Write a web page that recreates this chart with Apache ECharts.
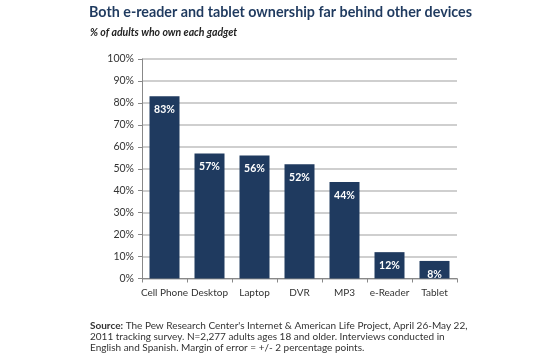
<!DOCTYPE html>
<html><head><meta charset="utf-8">
<script src="https://cdn.jsdelivr.net/npm/echarts@6/dist/echarts.min.js"></script>
<style>html,body{margin:0;padding:0;background:#fff}#c{width:560px;height:360px}</style>
</head><body><div id="c"></div>
<script>
const categories = ['Cell Phone','Desktop','Laptop','DVR','MP3','e-Reader','Tablet'];
const ownership = [83,57,56,52,44,12,8];
const yTicks = [0,10,20,30,40,50,60,70,80,90,100];

const chart = echarts.init(document.getElementById('c'));
chart.setOption({
  animation:false,
  title:[
    {text:'Both e-reader and tablet ownership far behind other devices',left:84,top:0,padding:5,
     textStyle:{fontFamily:'Lato',fontWeight:'bold',fontSize:14.3,color:'#1f3a5f'}},
    {text:'% of adults who own each gadget',left:85,top:22,padding:5,
     textStyle:{fontFamily:'Lato',fontStyle:'italic',fontWeight:'bold',fontSize:10.5,color:'#222'}},
    {text:'{b|Source:} The Pew Research Center\'s Internet & American Life Project, April 26-May 22,\n2011 tracking survey. N=2,277 adults ages 18 and older. Interviews conducted in\nEnglish and Spanish. Margin of error = +/- 2 percentage points.',
     left:85,top:315,padding:5,
     textStyle:{fontFamily:'Lato',fontWeight:'normal',fontSize:10,color:'#333',lineHeight:11,
       rich:{b:{fontFamily:'Lato',fontWeight:'bold',fontSize:10,color:'#333',lineHeight:11}}}}
  ],
  grid:{left:142,right:103,top:59,bottom:81.5},
  xAxis:{type:'category',data:categories,
    axisLine:{lineStyle:{color:'#888'}},
    axisTick:{show:true,alignWithLabel:false,lineStyle:{color:'#888'},length:4},
    axisLabel:{interval:0,color:'#333',fontFamily:'Lato',fontSize:10,margin:9}},
  yAxis:{type:'value',min:0,max:100,interval:10,
    axisLine:{show:true,lineStyle:{color:'#888'}},
    axisTick:{show:true,length:4,lineStyle:{color:'#888'}},
    axisLabel:{color:'#333',fontFamily:'Lato',fontSize:10.5,margin:8,
      formatter:v=>yTicks.includes(v)?v+'%':''},
    splitLine:{lineStyle:{color:'#bfbfbf',width:1.5}}},
  series:[{type:'bar',data:ownership,barWidth:30,
    itemStyle:{color:'#1f3a5f'},
    label:{show:true,position:'insideTop',distance:8,formatter:'{c}%',
      color:'#fff',fontFamily:'Lato',fontWeight:'bold',fontSize:10.5}}]
});
</script></body></html>
